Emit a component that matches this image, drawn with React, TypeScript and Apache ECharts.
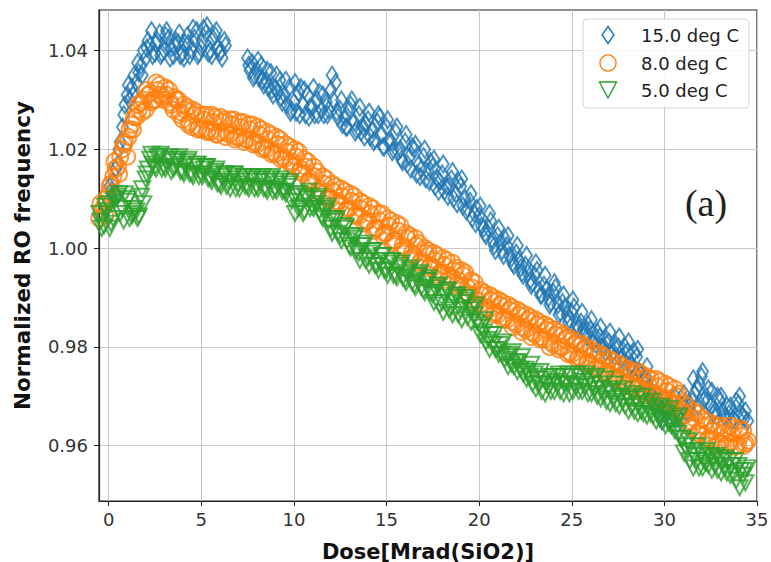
import React, { useEffect, useRef } from "react";
import * as echarts from "echarts";

// Dose sampling (Mrad(SiO2)): each run is sampled every 0.25 Mrad,
// later runs are offset by a fraction of a step.
const doseStep = 0.25;

// ---- 15.0 deg C ----
const blue15StartA = 0;
const blue15A = [
  1.0095, 1.0135, 1.017, 1.0245, 1.031, 1.0325, 1.0335, 1.037,
  1.0385, 1.041, 1.0395, 1.0435, 1.04, 1.0425, 1.039, 1.0415,
  1.0395, 1.043, 1.04, 1.044, 1.0405, 1.0435, 1.04, 1.043,
  1.0395, 1.042,
];
const blue15StartA2 = 0.125;
const blue15A2 = [
  1.0115, 1.016, 1.0215, 1.029, 1.03, 1.035, 1.0355, 1.04,
  1.042, 1.039, 1.042, 1.0395, 1.044, 1.0405, 1.042, 1.039,
  1.0415, 1.039, 1.0425, 1.0395, 1.0445, 1.0395, 1.0425, 1.0405,
  1.0385,
];
const blue15StartA3 = 0.0625;
const blue15A3 = [
  1.0125, 1.011, 1.02, 1.027, 1.033, 1.031, 1.0375, 1.035,
  1.0405, 1.044, 1.0415, 1.039, 1.043, 1.0385, 1.041, 1.0435,
  1.0385, 1.0415, 1.0445, 1.039, 1.042, 1.045, 1.039, 1.044,
  1.04, 1.041,
];
const blue15StartB = 7.5;
const blue15B = [
  1.0385, 1.0375, 1.036, 1.037, 1.034, 1.0355, 1.0325, 1.034,
  1.031, 1.0325, 1.0295, 1.0315, 1.029, 1.031, 1.0285, 1.03,
  1.028, 1.0295, 1.032, 1.0335, 1.028, 1.0265, 1.028, 1.0255,
  1.027, 1.0245, 1.026, 1.024, 1.0255, 1.023, 1.0245, 1.0215,
  1.0235, 1.02, 1.0215, 1.0185, 1.02, 1.017, 1.0185, 1.0155,
  1.0165, 1.014, 1.015, 1.0125, 1.014, 1.011, 1.0125, 1.01,
  1.0095, 1.007, 1.0065, 1.004, 1.004, 1.0015, 1.0025, 0.9995,
  1.0005, 0.998, 0.999, 0.996, 0.9965, 0.9935, 0.9945, 0.9915,
  0.9925, 0.99, 0.991, 0.9885, 0.989, 0.9865, 0.987, 0.9845,
  0.985, 0.983, 0.9835, 0.9815, 0.982, 0.98, 0.981, 0.979,
  0.98, 0.978, 0.979, 0.9765, 0.978, 0.9745, 0.974, 0.9715,
  0.969, 0.9665, 0.968, 0.967, 0.9685, 0.9665, 0.968, 0.967,
  0.969, 0.9715, 0.974, 0.97, 0.968, 0.967, 0.969, 0.966,
  0.9665, 0.9655, 0.9685, 0.966, 0.965,
];
const blue15StartB2 = 7.625;
const blue15B2 = [
  1.036, 1.035, 1.0345, 1.033, 1.0325, 1.031, 1.0315, 1.0295,
  1.029, 1.028, 1.0275, 1.0325, 1.027, 1.0285, 1.027, 1.0315,
  1.027, 1.028, 1.03, 1.0265, 1.025, 1.0245, 1.03, 1.024,
  1.0235, 1.025, 1.0225, 1.022, 1.0265, 1.0205, 1.0215, 1.02,
  1.0195, 1.0175, 1.017, 1.0205, 1.015, 1.016, 1.014, 1.0175,
  1.0125, 1.0135, 1.0115, 1.0125, 1.01, 1.0135, 1.0085, 1.008,
  1.006, 1.008, 1.0045, 1.0025, 1.0055, 0.9995, 1.001, 1.002,
  0.9985, 0.9965, 0.9975, 0.9945, 0.995, 0.993, 0.9955, 0.9905,
  0.9915, 0.989, 0.992, 0.987, 0.988, 0.9855, 0.988, 0.984,
  0.9835, 0.9845, 0.981, 0.983, 0.98, 0.9815, 0.9785, 0.9805,
  0.9775, 0.98, 0.976, 0.979, 0.975, 0.973, 0.972, 0.9695,
  0.967, 0.965, 0.9665, 0.9655, 0.967, 0.965, 0.969, 0.968,
  0.9705, 0.9725, 0.969, 0.9715, 0.9665, 0.97, 0.967, 0.968,
  0.965, 0.969, 0.9665, 0.967,
];
const blue15StartB3 = 7.5625;
const blue15B3 = [
  1.037, 1.0345, 1.038, 1.034, 1.036, 1.032, 1.035, 1.0305,
  1.034, 1.0275, 1.0335, 1.027, 1.032, 1.0265, 1.0325, 1.027,
  1.031, 1.027, 1.035, 1.0275, 1.03, 1.0245, 1.029, 1.0235,
  1.0285, 1.0225, 1.0275, 1.0215, 1.027, 1.0205, 1.026, 1.0195,
  1.0245, 1.018, 1.023, 1.016, 1.021, 1.0145, 1.02, 1.0135,
  1.018, 1.0115, 1.017, 1.0105, 1.0155, 1.009, 1.014, 1.0075,
  1.011, 1.005, 1.0085, 1.003, 1.007, 1.0005, 1.004, 0.9985,
  1.0025, 0.997, 1.0005, 0.995, 0.9985, 0.9925, 0.997, 0.9905,
  0.9945, 0.9885, 0.993, 0.9865, 0.9905, 0.985, 0.9895, 0.9835,
  0.987, 0.982, 0.9855, 0.9805, 0.984, 0.979, 0.983, 0.978,
  0.982, 0.977, 0.981, 0.9755, 0.9795, 0.9735, 0.976, 0.9705,
  0.9705, 0.966, 0.9695, 0.965, 0.97, 0.966, 0.9705, 0.9665,
  0.9735, 0.968, 0.975, 0.969, 0.971, 0.966, 0.97, 0.9655,
  0.968, 0.965, 0.97, 0.9655,
];

// ---- 8.0 deg C ----
const orange8Start = -0.5;
const orange8 = [
  1.006, 1.0085, 1.011, 1.0145, 1.0165, 1.02, 1.0185, 1.025,
  1.0265, 1.0295, 1.028, 1.0315, 1.03, 1.033, 1.03, 1.032,
  1.028, 1.03, 1.026, 1.0285, 1.0245, 1.0275, 1.024, 1.027,
  1.0235, 1.0265, 1.0235, 1.026, 1.023, 1.026, 1.0225, 1.0255,
  1.022, 1.025, 1.021, 1.024, 1.02, 1.023, 1.019, 1.022,
  1.018, 1.0205, 1.0165, 1.0195, 1.015, 1.0175, 1.013, 1.0155,
  1.011, 1.014, 1.01, 1.0125, 1.009, 1.0115, 1.008, 1.0105,
  1.0065, 1.009, 1.0055, 1.008, 1.004, 1.007, 1.003, 1.0055,
  1.0015, 1.0045, 1.0, 1.0025, 0.9985, 1.001, 0.997, 0.9995,
  0.996, 0.9985, 0.995, 0.9975, 0.994, 0.996, 0.9925, 0.995,
  0.9905, 0.993, 0.9885, 0.991, 0.9875, 0.99, 0.9865, 0.989,
  0.9855, 0.988, 0.9845, 0.987, 0.9835, 0.986, 0.9825, 0.985,
  0.9815, 0.984, 0.9805, 0.983, 0.98, 0.982, 0.9785, 0.981,
  0.9775, 0.98, 0.9765, 0.979, 0.9755, 0.978, 0.9745, 0.977,
  0.9735, 0.976, 0.9725, 0.975, 0.9715, 0.9745, 0.971, 0.9735,
  0.9705, 0.973, 0.9695, 0.972, 0.9685, 0.9705, 0.966, 0.968,
  0.9635, 0.9665, 0.962, 0.965, 0.961, 0.964, 0.9605, 0.9635,
  0.9605, 0.9635, 0.96, 0.963, 0.961,
];
const orange8Start2 = -0.375;
const orange8b = [
  1.0075, 1.01, 1.013, 1.016, 1.0185, 1.0215, 1.024, 1.0265,
  1.028, 1.03, 1.031, 1.03, 1.032, 1.0305, 1.031, 1.029,
  1.03, 1.0275, 1.028, 1.0255, 1.027, 1.0245, 1.026, 1.024,
  1.0255, 1.023, 1.0255, 1.0235, 1.025, 1.0225, 1.0245, 1.022,
  1.024, 1.0215, 1.023, 1.0205, 1.022, 1.0195, 1.021, 1.0185,
  1.0195, 1.0175, 1.0185, 1.016, 1.0165, 1.014, 1.0145, 1.012,
  1.013, 1.0105, 1.0115, 1.0095, 1.0105, 1.008, 1.0095, 1.007,
  1.008, 1.0055, 1.007, 1.004, 1.0055, 1.003, 1.0045, 1.0015,
  1.0035, 1.0005, 1.002, 0.999, 1.0005, 0.9975, 0.999, 0.9965,
  0.9975, 0.995, 0.9965, 0.9945, 0.9955, 0.9935, 0.9945, 0.992,
  0.992, 0.9895, 0.9905, 0.988, 0.9895, 0.987, 0.9885, 0.986,
  0.9875, 0.985, 0.9865, 0.984, 0.9855, 0.983, 0.9845, 0.982,
  0.9835, 0.981, 0.9825, 0.98, 0.9815, 0.979, 0.9805, 0.978,
  0.9795, 0.977, 0.9785, 0.976, 0.977, 0.975, 0.976, 0.974,
  0.9755, 0.973, 0.9745, 0.972, 0.9735, 0.971, 0.9725, 0.9705,
  0.972, 0.9695, 0.971, 0.969, 0.97, 0.9675, 0.9665, 0.965,
  0.9655, 0.963, 0.964, 0.9615, 0.963, 0.9605, 0.9625, 0.96,
  0.9625, 0.96, 0.962, 0.9605,
];
const orange8Start3 = -0.4375;
const orange8c = [
  1.009, 1.0065, 1.0125, 1.0175, 1.015, 1.021, 1.0225, 1.024,
  1.029, 1.0275, 1.032, 1.0295, 1.0335, 1.031, 1.0325, 1.0295,
  1.0305, 1.027, 1.029, 1.025, 1.028, 1.024, 1.027, 1.0235,
  1.027, 1.023, 1.0265, 1.0225, 1.026, 1.022, 1.0255, 1.0215,
  1.025, 1.021, 1.0245, 1.02, 1.0235, 1.019, 1.0225, 1.018,
  1.021, 1.017, 1.02, 1.0155, 1.018, 1.0135, 1.0165, 1.0115,
  1.0145, 1.01, 1.013, 1.009, 1.012, 1.0075, 1.011, 1.0065,
  1.0095, 1.005, 1.0085, 1.0035, 1.007, 1.0025, 1.006, 1.001,
  1.005, 0.9995, 1.003, 0.998, 1.002, 0.997, 1.0, 0.996,
  0.999, 0.9945, 0.998, 0.9935, 0.997, 0.9925, 0.9955, 0.991,
  0.9935, 0.9885, 0.9915, 0.987, 0.9905, 0.9865, 0.9895, 0.9855,
  0.9885, 0.984, 0.9875, 0.983, 0.9865, 0.982, 0.9855, 0.9815,
  0.9845, 0.98, 0.9835, 0.9795, 0.9825, 0.9785, 0.9815, 0.9775,
  0.9805, 0.9765, 0.9795, 0.9755, 0.9785, 0.9745, 0.9775, 0.9735,
  0.9765, 0.9725, 0.9755, 0.9715, 0.975, 0.9705, 0.974, 0.97,
  0.9735, 0.969, 0.9725, 0.9685, 0.9715, 0.967, 0.9685, 0.9645,
  0.967, 0.9625, 0.9655, 0.961, 0.9645, 0.96, 0.964, 0.96,
  0.964, 0.9598, 0.9635, 0.96,
];

// ---- 5.0 deg C ----
const green5Start = -0.5;
const green5 = [
  1.007, 1.0045, 1.009, 1.006, 1.0105, 1.008, 1.0095, 1.0065,
  1.0075, 1.0105, 1.014, 1.018, 1.0165, 1.0185, 1.0165, 1.018,
  1.016, 1.0175, 1.0155, 1.0175, 1.015, 1.017, 1.015, 1.0165,
  1.014, 1.0155, 1.013, 1.015, 1.0135, 1.015, 1.013, 1.0145,
  1.0125, 1.0145, 1.0125, 1.014, 1.012, 1.014, 1.012, 1.0135,
  1.0115, 1.013, 1.0105, 1.008, 1.007, 1.01, 1.0085, 1.009,
  1.0065, 1.0075, 1.004, 1.0055, 1.0025, 1.004, 1.0005, 1.002,
  0.999, 1.0005, 0.998, 0.9995, 0.9965, 0.9985, 0.9955, 0.9975,
  0.9945, 0.9965, 0.9935, 0.9955, 0.9925, 0.9945, 0.9915, 0.9935,
  0.9905, 0.9925, 0.989, 0.9915, 0.988, 0.9905, 0.9875, 0.99,
  0.9875, 0.9865, 0.9845, 0.983, 0.9815, 0.9805, 0.9795, 0.9785,
  0.978, 0.9765, 0.977, 0.9755, 0.9755, 0.974, 0.9745, 0.9725,
  0.9735, 0.972, 0.974, 0.9725, 0.974, 0.9725, 0.974, 0.972,
  0.974, 0.972, 0.9735, 0.9715, 0.9725, 0.9705, 0.9715, 0.9695,
  0.971, 0.969, 0.97, 0.968, 0.9695, 0.967, 0.9685, 0.9665,
  0.9675, 0.9655, 0.967, 0.9645, 0.9655, 0.9625, 0.9615, 0.959,
  0.959, 0.957, 0.9585, 0.9565, 0.958, 0.956, 0.9575, 0.9555,
  0.957, 0.9545, 0.956, 0.954, 0.9555,
];
const green5Start2 = -0.375;
const green5b = [
  1.004, 1.0075, 1.005, 1.01, 1.007, 1.011, 1.006, 1.008,
  1.0065, 1.009, 1.016, 1.017, 1.0185, 1.016, 1.0175, 1.0155,
  1.018, 1.0155, 1.017, 1.015, 1.0165, 1.0145, 1.016, 1.014,
  1.015, 1.013, 1.0145, 1.0125, 1.014, 1.012, 1.0135, 1.0125,
  1.014, 1.012, 1.0135, 1.012, 1.0135, 1.0115, 1.013, 1.0115,
  1.0125, 1.0095, 1.011, 1.0085, 1.0105, 1.008, 1.01, 1.0075,
  1.008, 1.0055, 1.006, 1.003, 1.0045, 1.0015, 1.0025, 0.9995,
  1.0005, 0.9975, 0.999, 0.9965, 0.9975, 0.9955, 0.997, 0.9945,
  0.996, 0.994, 0.995, 0.993, 0.9945, 0.992, 0.9935, 0.991,
  0.992, 0.9885, 0.991, 0.9875, 0.99, 0.9865, 0.989, 0.986,
  0.988, 0.985, 0.984, 0.981, 0.9825, 0.9795, 0.9805, 0.9775,
  0.9785, 0.976, 0.977, 0.9745, 0.975, 0.9725, 0.9735, 0.971,
  0.9725, 0.971, 0.973, 0.971, 0.9725, 0.9705, 0.9725, 0.971,
  0.973, 0.9705, 0.9725, 0.97, 0.9715, 0.969, 0.971, 0.9685,
  0.97, 0.968, 0.9695, 0.967, 0.9685, 0.9665, 0.968, 0.966,
  0.967, 0.965, 0.9665, 0.964, 0.965, 0.9615, 0.96, 0.957,
  0.958, 0.9555, 0.957, 0.956, 0.9575, 0.955, 0.957, 0.9545,
  0.956, 0.953, 0.955, 0.9525,
];
const green5Start3 = -0.4375;
const green5c = [
  1.0055, 1.0085, 1.004, 1.0095, 1.011, 1.0055, 1.01, 1.007,
  1.006, 1.012, 1.015, 1.019, 1.016, 1.019, 1.016, 1.0185,
  1.0165, 1.0185, 1.015, 1.018, 1.0145, 1.017, 1.0145, 1.0165,
  1.0135, 1.016, 1.0125, 1.015, 1.012, 1.015, 1.012, 1.0145,
  1.012, 1.0145, 1.012, 1.0145, 1.0115, 1.0145, 1.0115, 1.014,
  1.011, 1.0135, 1.007, 1.011, 1.0075, 1.0115, 1.008, 1.0105,
  1.006, 1.0085, 1.003, 1.006, 1.0015, 1.0045, 1.0, 1.0025,
  0.9975, 1.001, 0.9965, 0.9995, 0.9955, 0.9985, 0.9945, 0.9975,
  0.994, 0.997, 0.993, 0.996, 0.992, 0.995, 0.991, 0.994,
  0.989, 0.9925, 0.987, 0.9915, 0.9865, 0.9905, 0.9855, 0.9895,
  0.985, 0.9885, 0.9825, 0.9855, 0.9795, 0.9825, 0.9785, 0.981,
  0.976, 0.979, 0.975, 0.978, 0.9735, 0.9765, 0.9715, 0.975,
  0.9705, 0.974, 0.971, 0.9745, 0.9705, 0.9745, 0.971, 0.9745,
  0.971, 0.9745, 0.9705, 0.974, 0.9695, 0.9735, 0.9685, 0.9725,
  0.968, 0.9715, 0.967, 0.9705, 0.9665, 0.97, 0.966, 0.969,
  0.965, 0.968, 0.964, 0.9675, 0.963, 0.966, 0.9585, 0.961,
  0.9555, 0.96, 0.9555, 0.959, 0.955, 0.958, 0.9545, 0.9575,
  0.954, 0.957, 0.9515, 0.955,
];

const xTicks = [0, 5, 10, 15, 20, 25, 30, 35];
const yTicks = [0.96, 0.98, 1.0, 1.02, 1.04];
const seriesNames = ["15.0 deg C", "8.0 deg C", "5.0 deg C"];
const seriesColors = ["#1f77b4", "#ff7f0e", "#2ca02c"];

function toPairs(start: number, values: number[]): number[][] {
  return values.map((v, i) => [Math.round((start + i * doseStep) * 10000) / 10000, v]);
}

export default function App() {
  const ref = useRef<HTMLDivElement>(null);

  useEffect(() => {
    if (!ref.current) return;
    const chart = echarts.init(ref.current, null, { renderer: "svg" });
    const font = "DejaVu Sans";
    const blueData = [
      ...toPairs(blue15StartA, blue15A),
      ...toPairs(blue15StartA2, blue15A2),
      ...toPairs(blue15StartA3, blue15A3),
      ...toPairs(blue15StartB, blue15B),
      ...toPairs(blue15StartB2, blue15B2),
      ...toPairs(blue15StartB3, blue15B3),
    ];
    const orangeData = [
      ...toPairs(orange8Start, orange8),
      ...toPairs(orange8Start2, orange8b),
      ...toPairs(orange8Start3, orange8c),
    ];
    const greenData = [
      ...toPairs(green5Start, green5),
      ...toPairs(green5Start2, green5b),
      ...toPairs(green5Start3, green5c),
    ];

    const legendX = 608;
    const legendRows = [35, 63, 90];
    const markerWidth = 2;

    const option: any = {
      animation: false,
      grid: {
        left: 99,
        top: 10,
        width: 658,
        height: 491,
        outerBoundsMode: "none",
        containLabel: false,
        show: true,
        borderColor: "#222",
        borderWidth: 1.2,
        backgroundColor: "transparent",
      },
      xAxis: {
        type: "value",
        min: -0.52,
        max: 35,
        name: "Dose[Mrad(SiO2)]",
        nameLocation: "middle",
        nameGap: 40,
        nameTextStyle: { fontFamily: font, fontWeight: "bold", fontSize: 21, color: "#111" },
        axisLine: { show: true, onZero: false, lineStyle: { color: "#222", width: 1.2 } },
        axisTick: { show: true, inside: false, length: 5, customValues: xTicks, lineStyle: { color: "#222" } },
        axisLabel: {
          customValues: xTicks,
          fontSize: 18,
          fontFamily: font,
          color: "#333",
          margin: 9,
          formatter: (v: number) => String(v),
        },
        splitLine: { show: true, lineStyle: { color: "#c8c8c8", width: 1 } },
      },
      yAxis: {
        type: "value",
        min: 0.9488,
        max: 1.0482,
        name: "Normalized RO frequency",
        nameLocation: "middle",
        nameGap: 66,
        nameTextStyle: { fontFamily: font, fontWeight: "bold", fontSize: 21.5, color: "#111" },
        axisLine: { show: true, onZero: false, lineStyle: { color: "#222", width: 1.2 } },
        axisTick: { show: true, inside: false, length: 5, customValues: yTicks, lineStyle: { color: "#222" } },
        axisLabel: {
          customValues: yTicks,
          fontSize: 18,
          fontFamily: font,
          color: "#333",
          margin: 11,
          formatter: (v: number) => v.toFixed(2),
        },
        splitLine: { show: true, lineStyle: { color: "#c8c8c8", width: 1 } },
      },
      series: [
        {
          name: seriesNames[0],
          type: "scatter",
          data: blueData,
          symbol: "diamond",
          symbolSize: [11, 17],
          itemStyle: { color: "transparent", borderColor: seriesColors[0], borderWidth: markerWidth },
          emphasis: { disabled: true },
        },
        {
          name: seriesNames[1],
          type: "scatter",
          data: orangeData,
          symbol: "circle",
          symbolSize: 16,
          itemStyle: { color: "transparent", borderColor: seriesColors[1], borderWidth: markerWidth },
          emphasis: { disabled: true },
        },
        {
          name: seriesNames[2],
          type: "scatter",
          data: greenData,
          symbol: "triangle",
          symbolRotate: 180,
          symbolSize: [16, 15],
          itemStyle: { color: "transparent", borderColor: seriesColors[2], borderWidth: markerWidth },
          emphasis: { disabled: true },
        },
      ],
      graphic: [
        {
          type: "rect",
          z: 100,
          shape: { x: 583, y: 19, width: 166, height: 89, r: 4 },
          style: { fill: "rgba(255,255,255,0.85)", stroke: "#d4d4d4", lineWidth: 1 },
        },
        {
          type: "polygon",
          z: 101,
          shape: {
            points: [
              [legendX, legendRows[0] - 8.5],
              [legendX + 6, legendRows[0]],
              [legendX, legendRows[0] + 8.5],
              [legendX - 6, legendRows[0]],
            ],
          },
          style: { fill: "none", stroke: seriesColors[0], lineWidth: 1.4 },
        },
        {
          type: "circle",
          z: 101,
          shape: { cx: legendX, cy: legendRows[1], r: 8 },
          style: { fill: "none", stroke: seriesColors[1], lineWidth: 1.4 },
        },
        {
          type: "polygon",
          z: 101,
          shape: {
            points: [
              [legendX - 8.5, legendRows[2] - 8],
              [legendX + 8.5, legendRows[2] - 8],
              [legendX, legendRows[2] + 8],
            ],
          },
          style: { fill: "none", stroke: seriesColors[2], lineWidth: 1.4 },
        },
        ...seriesNames.map((n, i) => ({
          type: "text",
          z: 101,
          x: 641,
          y: legendRows[i],
          style: {
            text: n,
            fontFamily: font,
            fontSize: 18,
            fill: "#222",
            verticalAlign: "middle",
            align: "left",
          },
        })),
        {
          type: "text",
          z: 101,
          x: 706,
          y: 203,
          style: {
            text: "(a)",
            fontFamily: "Liberation Serif",
            fontSize: 38,
            fill: "#222",
            align: "center",
            verticalAlign: "middle",
          },
        },
      ],
    };

    chart.setOption(option);
    return () => chart.dispose();
  }, []);

  return (
    <div
      ref={ref}
      style={{ position: "fixed", left: 0, top: 0, width: 771, height: 562, background: "#fff" }}
    />
  );
}
